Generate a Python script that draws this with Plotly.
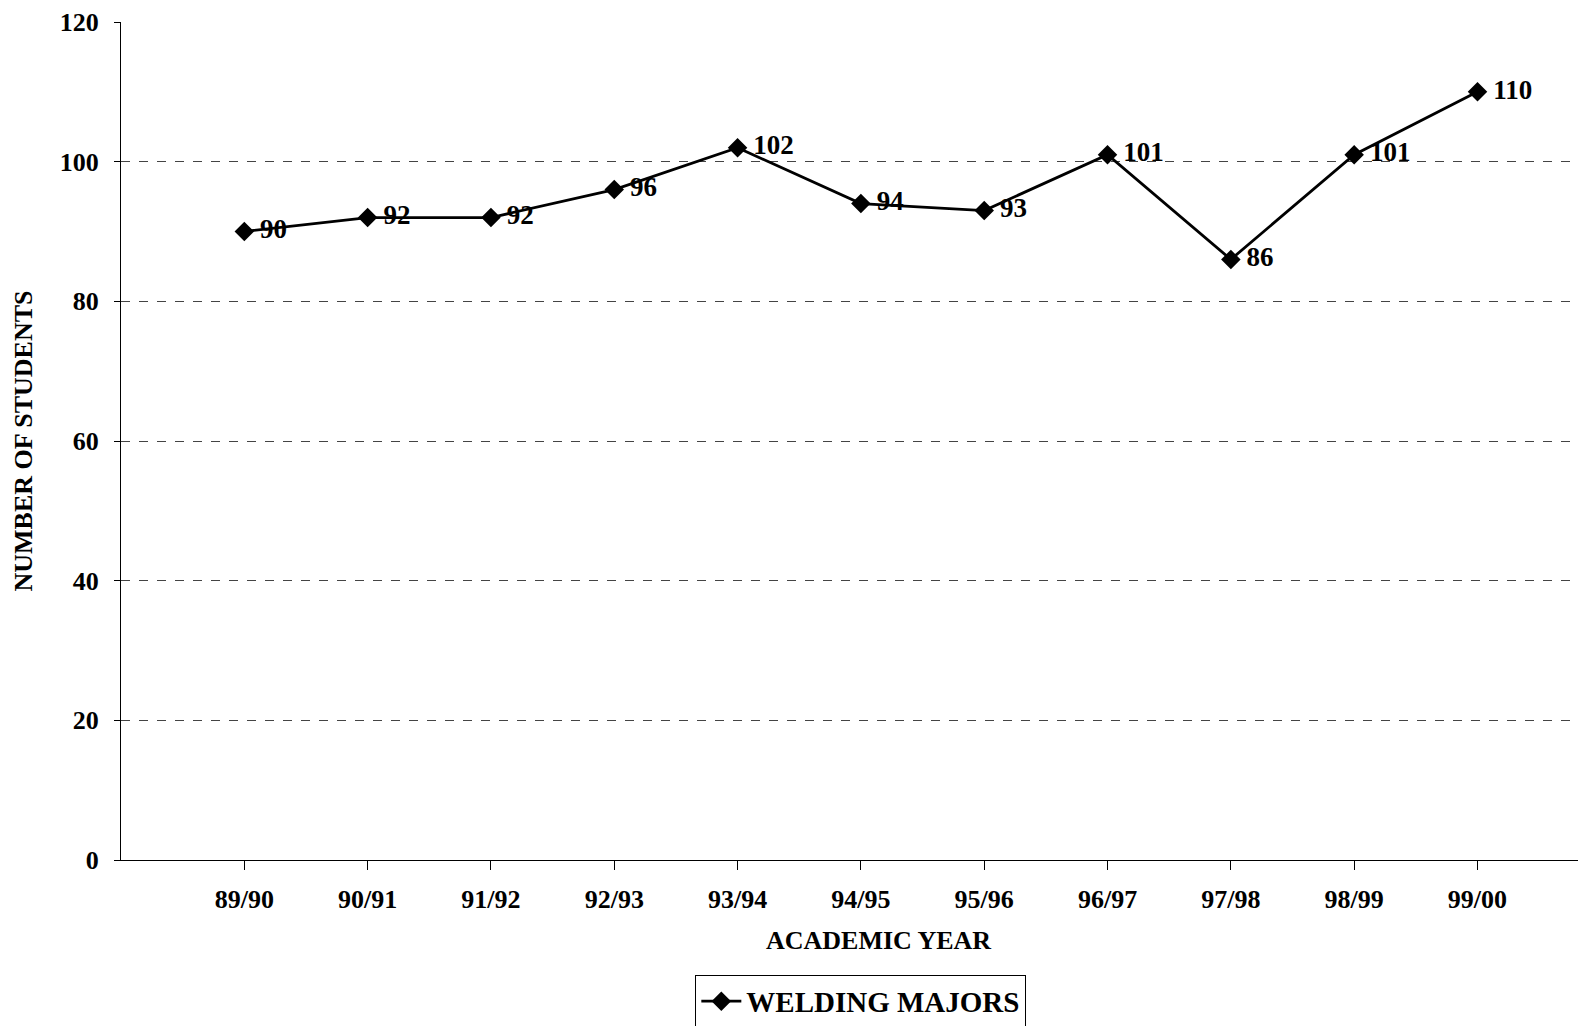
import plotly.graph_objects as go

years = ["89/90", "90/91", "91/92", "92/93", "93/94", "94/95", "95/96", "96/97", "97/98", "98/99", "99/00"]
welding_majors = [90, 92, 92, 96, 102, 94, 93, 101, 86, 101, 110]
y_ticks = [0, 20, 40, 60, 80, 100, 120]

FONT = "Liberation Serif"

fig = go.Figure()
fig.add_trace(go.Scatter(
    x=list(range(len(years))),
    y=welding_majors,
    mode="lines+markers+text",
    name="WELDING MAJORS",
    line=dict(color="black", width=2.8),
    marker=dict(symbol="diamond", size=15, color="black"),
    text=[str(v) for v in welding_majors],
    texttemplate="\u2009%{text}",
    textposition="middle right",
    textfont=dict(family=FONT, size=27, color="black", weight="bold"),
    cliponaxis=False,
))

fig.update_layout(
    width=1578, height=1018,
    margin=dict(l=113, r=0, t=14, b=166, autoexpand=False),
    paper_bgcolor="white", plot_bgcolor="white",
    font=dict(family=FONT, size=26, color="black", weight="bold"),
    showlegend=True,
    legend=dict(
        x=0.505, xanchor="center", y=-0.137, yanchor="top",
        orientation="h",
        bordercolor="black", borderwidth=1, bgcolor="white",
        font=dict(family=FONT, size=29, color="black", weight="bold"),
        itemwidth=40,
    ),
    annotations=[dict(
        text="ACADEMIC YEAR", xref="paper", yref="paper",
        x=0.517, y=-0.096, xanchor="center", yanchor="middle",
        showarrow=False,
        font=dict(family=FONT, size=26, color="black", weight="bold"),
    )],
)

fig.update_xaxes(
    range=[-1.0, 10.88],
    tickmode="array",
    tickvals=list(range(len(years))),
    ticktext=years,
    ticks="outside", ticklen=9, tickcolor="black", tickwidth=1,
    showline=True, linecolor="black", linewidth=1,
    showgrid=False, zeroline=False,
    ticklabelstandoff=7,
    tickfont=dict(family=FONT, size=26, weight="bold"),
)

fig.update_yaxes(
    range=[0, 120],
    tickmode="array",
    tickvals=y_ticks,
    ticks="outside", ticklen=6, tickcolor="black", tickwidth=1,
    showline=True, linecolor="black", linewidth=1,
    showgrid=True, gridcolor="#444444", gridwidth=1, griddash="dash",
    zeroline=False,
    ticklabelstandoff=10,
    tickfont=dict(family=FONT, size=26, weight="bold"),
    title=dict(text="NUMBER OF STUDENTS", standoff=19,
               font=dict(family=FONT, size=26, weight="bold")),
)

fig.write_html("out.html")
